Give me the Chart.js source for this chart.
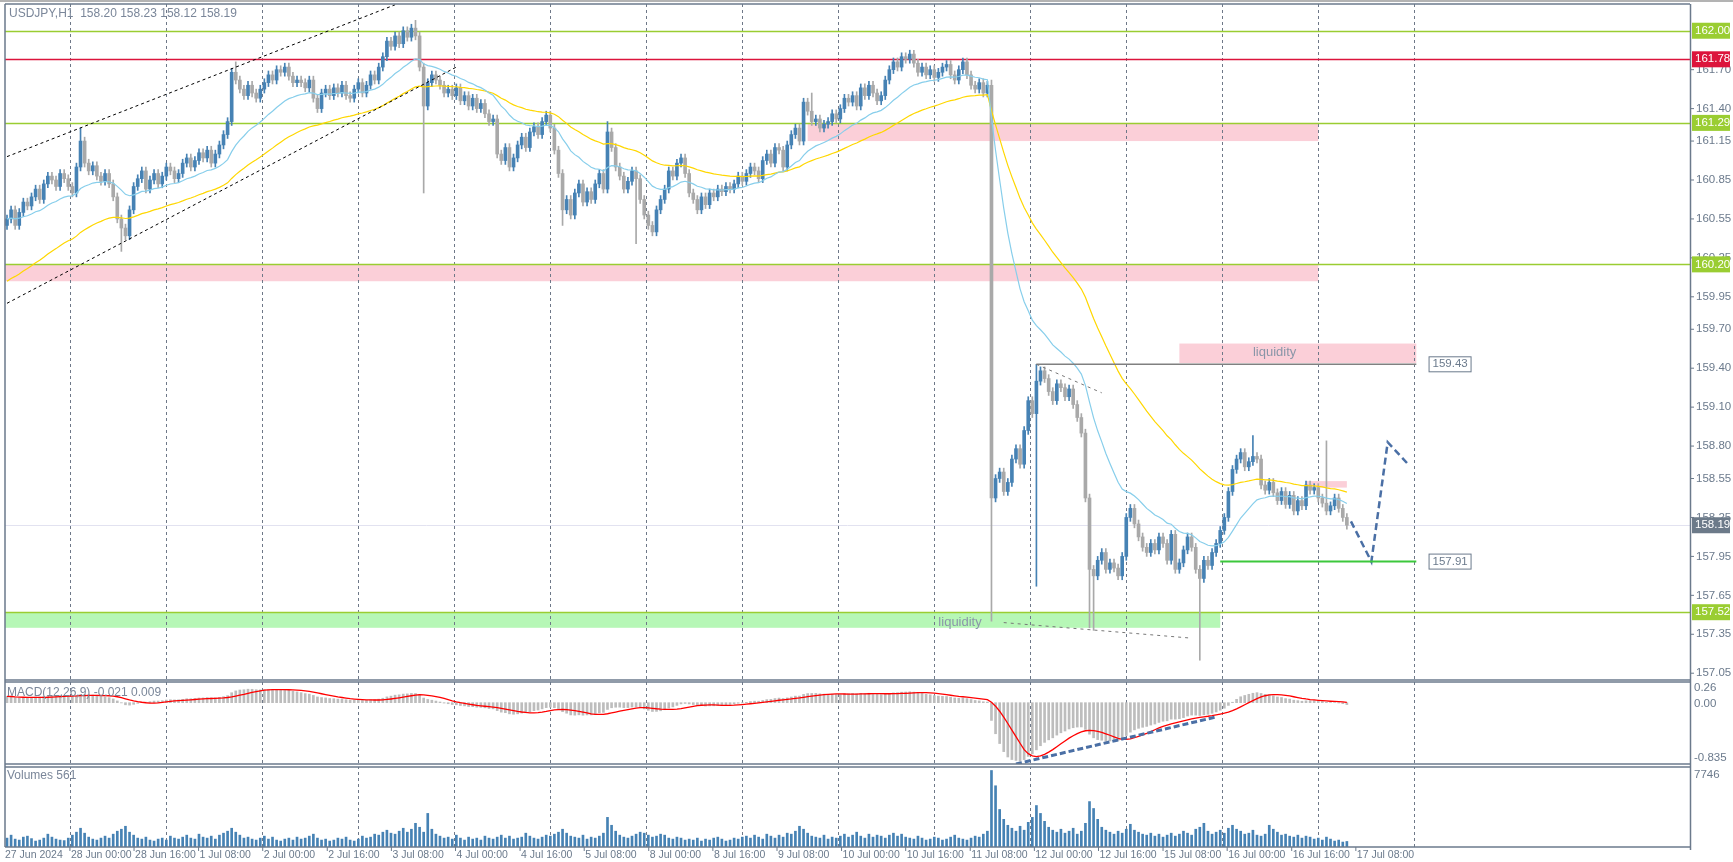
<!DOCTYPE html><html><head><meta charset="utf-8">
<script src="https://cdn.jsdelivr.net/npm/chart.js@4/dist/chart.umd.min.js"></script>
<style>html,body{margin:0;background:#fff}canvas{display:block}</style></head><body>
<canvas id="c" width="1733" height="862"></canvas>
<script>
// ---------- DATA ----------
const firstOpen = 160.50;
const closes = [
160.55,160.62,160.50,160.60,160.68,160.65,160.72,160.78,160.70,160.82,160.88,160.85,160.80,160.90,160.86,160.80,160.75,160.95,161.15,160.98,160.92,160.96,160.88,160.84,
160.90,160.82,160.72,160.55,160.48,160.42,160.62,160.80,160.86,160.92,160.78,160.85,160.90,160.82,160.88,160.95,160.92,160.86,160.90,160.98,161.02,160.95,161.00,161.06,
161.02,161.08,160.98,161.05,161.12,161.20,161.30,161.68,161.62,161.55,161.50,161.58,161.52,161.48,161.55,161.60,161.66,161.62,161.70,161.68,161.72,161.65,161.60,161.62,
161.60,161.56,161.62,161.48,161.40,161.52,161.55,161.50,161.56,161.52,161.58,161.50,161.48,161.55,161.60,161.52,161.58,161.66,161.62,161.72,161.80,161.92,161.88,161.96,
161.90,162.00,161.95,162.02,161.96,161.72,161.42,161.60,161.66,161.62,161.58,161.52,161.55,161.50,161.56,161.46,161.50,161.42,161.48,161.40,161.44,161.36,161.30,161.32,
161.05,161.00,161.10,160.95,161.02,161.12,161.18,161.10,161.22,161.26,161.20,161.30,161.35,161.25,161.08,160.90,160.62,160.70,160.58,160.75,160.82,160.68,160.76,160.70,
160.82,160.90,160.78,161.22,161.10,160.95,160.88,160.78,160.84,160.92,160.86,160.70,160.58,160.50,160.45,160.62,160.70,160.78,160.92,160.88,160.98,161.02,160.90,160.75,
160.70,160.62,160.72,160.66,160.75,160.72,160.78,160.76,160.80,160.78,160.82,160.88,160.84,160.90,160.95,160.92,160.86,161.00,161.05,160.98,161.10,161.08,160.95,161.12,
161.20,161.25,161.15,161.45,161.38,161.30,161.32,161.25,161.28,161.30,161.36,161.32,161.40,161.48,161.45,161.50,161.42,161.56,161.50,161.58,161.52,161.46,161.50,161.62,
161.70,161.76,161.72,161.80,161.78,161.82,161.75,161.68,161.72,161.66,161.70,161.64,161.68,161.72,161.74,161.66,161.62,161.70,161.76,161.66,161.58,161.55,161.60,161.52,161.58,
158.40,158.55,158.60,158.45,158.52,158.70,158.78,158.66,158.92,159.15,159.05,159.30,159.38,159.32,159.22,159.15,159.28,159.25,159.18,159.24,159.12,159.02,158.90,158.40,
157.85,157.80,157.92,157.98,157.85,157.90,157.86,157.80,157.95,158.25,158.32,158.20,158.10,158.02,157.98,158.05,158.00,158.10,158.05,157.92,158.12,157.85,157.90,158.00,
158.10,158.02,157.85,157.78,157.92,157.88,157.98,158.05,158.15,158.25,158.45,158.62,158.70,158.75,158.64,158.68,158.72,158.70,158.50,158.46,158.52,158.44,158.38,158.45,
158.35,158.42,158.30,158.38,158.34,158.50,158.46,158.48,158.40,158.36,158.30,158.34,158.40,158.32,158.25,158.19
];
const spikeHigh = {18:161.25,56:161.76,100:162.08,147:161.30,197:161.52,241:161.62,252:159.43,305:158.88,323:158.84};
const spikeLow  = {28:160.30,102:160.75,136:160.50,154:160.36,241:157.45,252:157.72,265:157.40,266:157.38,292:157.15};
const volumes = [
900,1200,800,700,1000,1100,850,600,700,900,1300,1000,800,700,650,900,1200,1500,1900,1400,1000,800,700,900,
1100,900,1300,1600,1800,2100,1500,1200,900,800,1000,700,600,800,900,700,1100,900,800,1000,1200,900,800,1300,
1000,900,1100,800,1200,1400,1600,1900,1500,1200,900,1000,800,700,900,1100,800,1000,700,600,800,900,700,1000,
800,900,1100,1300,900,700,800,600,700,900,800,1000,700,600,800,1100,900,1000,1300,1200,1500,1700,1400,1300,
1600,1900,1500,1800,2400,2000,1500,3400,1800,1300,1100,900,1000,800,1200,900,700,1000,800,900,700,1100,900,800,
1000,1200,900,1100,800,900,1000,1400,1100,900,800,1000,1200,1100,1300,1500,1800,1400,1100,1000,900,1200,800,1000,
900,1100,1400,3000,2200,1600,1200,1000,900,1100,1300,1500,1400,1200,1000,1100,1300,1200,900,800,1000,900,700,800,
700,900,600,800,700,900,1000,800,600,700,900,800,1000,1100,900,1200,1000,800,1300,1100,900,1200,1000,1400,
1300,1600,2100,1800,1400,1100,1000,900,1200,800,1000,900,1100,1300,1000,1200,1500,1100,900,1300,1000,1200,1100,900,
1200,1400,1100,1300,1000,900,800,1100,900,700,800,1000,900,700,800,1000,1200,900,800,700,900,1100,1000,1300,1600,
7746,6200,3800,2800,2200,1900,1600,2100,1700,2500,3000,4200,3400,2600,2000,1700,1500,1800,1400,1600,1900,1300,1600,2400,
4600,3900,2800,2000,1700,1500,1300,1600,1400,1800,2300,1700,1500,1300,1200,1400,1100,1300,1000,1200,1400,1100,1300,1600,
1400,1200,1800,2000,2400,1600,1300,1500,1700,1400,1900,2200,1800,1600,1300,1400,1700,1200,1100,1300,2200,1800,1500,1200,
1300,1100,1000,1200,900,1100,1000,800,900,700,1000,800,600,700,500,561
];
const emaFastSeed = 160.55, emaSlowSeed = 160.05;
const xLabels = ['28 Jun 00:00','28 Jun 16:00','1 Jul 08:00','2 Jul 00:00','2 Jul 16:00','3 Jul 08:00','4 Jul 00:00','4 Jul 16:00','5 Jul 08:00','8 Jul 00:00','8 Jul 16:00','9 Jul 08:00','10 Jul 00:00','10 Jul 16:00','11 Jul 08:00','12 Jul 00:00','12 Jul 16:00','15 Jul 08:00','16 Jul 00:00','16 Jul 16:00','17 Jul 08:00'];
const xLabelIdx = [15.4,31.1,46.9,62.6,78.4,94.1,109.8,125.6,141.3,157.1,172.8,188.5,204.3,220.0,235.8,251.5,267.2,283.0,298.7,314.5,330.2];
const priceTicks = [161.70,161.40,161.15,160.85,160.55,160.25,159.95,159.70,159.40,159.10,158.80,158.55,158.25,157.95,157.65,157.35,157.05];
const levels = [162.00,161.78,161.29,160.20,157.52];
const zones = [ // [x0,x1,pTop,pBottom]
  [196,321,161.29,161.15],[-1,321,160.20,160.07],[287,345,159.59,159.44],[-1,297,157.52,157.40],[318,328,158.53,158.48]];
const channelUpper = [[0,161.03],[95,162.20]];
const channelLower = [[0,159.90],[110,161.72]];
const topTrend = [[252,159.43],[268,159.21]];
const liqTrend = [[244,157.44],[290,157.32]];
const forecast = [[329,158.22],[334,157.91],[338,158.83],[343,158.66]];
const line15943 = [[252,159.43],[345,159.43]];
const line15791 = [[297,157.91],[345,157.91]];
const macdTrend = [[247,-0.86],[296,-0.20]];
const lastPrice = 158.19;

// ---------- DERIVED ----------
const opens = closes.map((c,i)=> i? closes[i-1] : firstOpen);
const highs = closes.map((c,i)=> spikeHigh[i] ?? Math.max(c,opens[i])+0.03);
const lows  = closes.map((c,i)=> spikeLow[i]  ?? Math.min(c,opens[i])-0.03);
function ema(arr,p,seed){let k=2/(p+1),e=seed;return arr.map(v=>(e=e+k*(v-e)));}
const ma21 = ema(closes,21,emaFastSeed), ma50 = ema(closes,50,emaSlowSeed);
const e12 = ema(closes,12,closes[0]+0.05), e26 = ema(closes,26,closes[0]-0.05);
const macd = e12.map((v,i)=>v-e26[i]);
const signal = macd.map((v,i)=>{let s=0,n=0;for(let j=Math.max(0,i-8);j<=i;j++){s+=macd[j];n++;}return s/n;});
const BLUE='#4682B4', GREY='#A9A9A9';
const cc = closes.map((c,i)=> c>=opens[i]?BLUE:GREY);
const pts = a=>a.map(([x,y])=>({x,y}));

// ---------- CHART ----------
const XMIN=-0.49, XMAX=412;
const AXIS='#6B7A8C';
const F='"Liberation Sans", Arial, sans-serif';
const deco = {
 id:'deco',
 beforeDatasetsDraw(ch){
  const c=ch.ctx,x=ch.scales.x,y=ch.scales.y,a=ch.chartArea;
  c.save();
  zones.forEach(([x0,x1,t,b],k)=>{
    c.fillStyle = k===3?'#B6F7B6':'#FBCFD8';
    const L=x0<0?a.left:x.getPixelForValue(x0), R=x.getPixelForValue(x1);
    c.fillRect(L,y.getPixelForValue(t),R-L,y.getPixelForValue(b)-y.getPixelForValue(t));
  });
  c.strokeStyle='#6E7888';c.lineWidth=1;c.setLineDash([3,3]);
  for(let k=0;k<15;k++){const px=Math.round(x.getPixelForValue((70+96*k-7)/4.085))+0.5;
    c.beginPath();c.moveTo(px,a.top);c.lineTo(px,a.bottom);c.stroke();}
  c.setLineDash([]);
  c.strokeStyle='#E2E2F0';c.beginPath();const lp=Math.round(y.getPixelForValue(lastPrice))+0.5;c.moveTo(a.left,lp);c.lineTo(a.right,lp);c.stroke();
  levels.forEach(p=>{c.strokeStyle=p===161.78?'#DC143C':'#9ACD32';c.lineWidth=1.3;const py=Math.round(y.getPixelForValue(p))+0.5;c.beginPath();c.moveTo(a.left,py);c.lineTo(a.right,py);c.stroke();});
  c.restore();
 },
 afterDatasetsDraw(ch){
  const c=ch.ctx,x=ch.scales.x,y=ch.scales.y,m=ch.scales.m,a=ch.chartArea;
  c.save();
  c.fillStyle='#fff';c.fillRect(a.left,680,a.right-a.left,2);c.fillRect(a.left,764,a.right-a.left,3);
  c.strokeStyle=AXIS;c.lineWidth=1.5;
  [4,680,682,764,767,847].forEach(yy=>{c.beginPath();c.moveTo(a.left,yy);c.lineTo(a.right,yy);c.stroke();});
  c.strokeStyle='#9a9a9a';c.beginPath();c.moveTo(0,1);c.lineTo(1733,1);c.stroke();
  c.strokeStyle=AXIS;c.beginPath();c.moveTo(a.right+0.5,4);c.lineTo(a.right+0.5,850);c.moveTo(a.left,4);c.lineTo(a.left,847);c.stroke();
  c.font='11.5px '+F;c.textBaseline='middle';c.fillStyle=AXIS;c.lineWidth=1;
  priceTicks.forEach(p=>{const py=y.getPixelForValue(p);c.beginPath();c.moveTo(a.right,py);c.lineTo(a.right+4,py);c.stroke();c.fillText(p.toFixed(2),a.right+6,py);});
  const lab=(p,bg)=>{const py=y.getPixelForValue(p);c.fillStyle=bg;c.fillRect(a.right+2,py-8,38,16);c.fillStyle='#fff';c.fillText(p.toFixed(2),a.right+5,py);};
  levels.forEach(p=>lab(p,p===161.78?'#DC143C':'#9ACD32'));
  lab(lastPrice,'#6C7A89');
  c.fillStyle=AXIS;
  c.fillText('0.26',a.right+4,m.getPixelForValue(0.26)+4);
  c.fillText('0.00',a.right+4,m.getPixelForValue(0)+1);
  c.fillText('-0.835',a.right+4,758);
  c.fillText('7746',a.right+4,775);
  c.strokeStyle=AXIS;
  [[159.43,'159.43'],[157.91,'157.91']].forEach(([p,t])=>{const px=x.getPixelForValue(348),py=y.getPixelForValue(p);c.fillStyle='#fff';c.fillRect(px,py-8,42,15);c.strokeRect(px+0.5,py-7.5,42,15);c.fillStyle=AXIS;c.fillText(t,px+4,py);});
  c.fillStyle='#8A96A8';c.font='13px '+F;
  c.fillText('liquidity',x.getPixelForValue(305),y.getPixelForValue(159.52));
  c.fillText('liquidity',x.getPixelForValue(228),y.getPixelForValue(157.44));
  c.font='12px '+F;c.fillStyle='#7A8699';
  c.fillText('USDJPY,H1  158.20 158.23 158.12 158.19',9,14);
  c.fillText('MACD(12,26,9) -0.021 0.009',7,693);
  c.fillText('Volumes 561',7,776);
  c.fillStyle=AXIS;c.font='10.5px '+F;
  c.fillText('27 Jun 2024',5,855);
  xLabels.forEach((t,i)=>{const px=x.getPixelForValue(xLabelIdx[i]);c.beginPath();c.moveTo(px,847);c.lineTo(px,851);c.stroke();c.fillText(t,px+1,855);});
  c.restore();
 }
};
const seg=(data,color,w,dash,axis)=>({type:'line',data:pts(data),borderColor:color,borderWidth:w,borderDash:dash,pointRadius:0,yAxisID:axis||'y',order:0});
new Chart(document.getElementById('c'),{
 data:{datasets:[
  {type:'bar',data:closes.map((c,i)=>({x:i,y:[lows[i],highs[i]]})),backgroundColor:cc,barThickness:1,grouped:false,yAxisID:'y',order:3},
  {type:'bar',data:closes.map((c,i)=>({x:i,y:[opens[i],c]})),backgroundColor:cc,barThickness:3,minBarLength:1,grouped:false,yAxisID:'y',order:2},
  {type:'line',data:ma21.map((v,i)=>({x:i,y:v})),borderColor:'#87CEEB',borderWidth:1.2,pointRadius:0,yAxisID:'y',order:1},
  {type:'line',data:ma50.map((v,i)=>({x:i,y:v})),borderColor:'#FFD700',borderWidth:1.2,pointRadius:0,yAxisID:'y',order:1},
  seg(channelUpper,'#000',1,[3,3]),seg(channelLower,'#000',1,[3,3]),
  seg(topTrend,'#777',1,[3,4]),seg(liqTrend,'#777',1,[3,4]),
  seg(line15943,'#808080',1.5,[]),seg(line15791,'#3CC83C',2,[]),
  seg(forecast,'#4A6FA5',2.5,[7,4]),
  {type:'bar',data:macd.map((v,i)=>({x:i,y:v})),backgroundColor:'#BDBDBD',barThickness:2,grouped:false,yAxisID:'m',order:2},
  {type:'line',data:signal.map((v,i)=>({x:i,y:v})),borderColor:'#FF0000',borderWidth:1.3,pointRadius:0,yAxisID:'m',order:1},
  seg(macdTrend,'#4A6FA5',3,[6,3],'m'),
  {type:'bar',data:volumes.map((v,i)=>({x:i,y:v})),backgroundColor:BLUE,barThickness:2,grouped:false,yAxisID:'v',order:2}
 ]},
 options:{responsive:false,animation:false,devicePixelRatio:1,
  layout:{padding:{left:5,right:43,top:4,bottom:15}},
  plugins:{legend:{display:false},tooltip:{enabled:false}},
  scales:{
   x:{type:'linear',min:XMIN,max:XMAX,offset:false,display:false},
   y:{type:'linear',min:155.711,max:162.206,display:false},
   m:{type:'linear',min:-2.024,max:9.798,display:false},
   v:{type:'linear',min:0,max:85354,display:false}
  }},
 plugins:[deco]
});
</script></body></html>
